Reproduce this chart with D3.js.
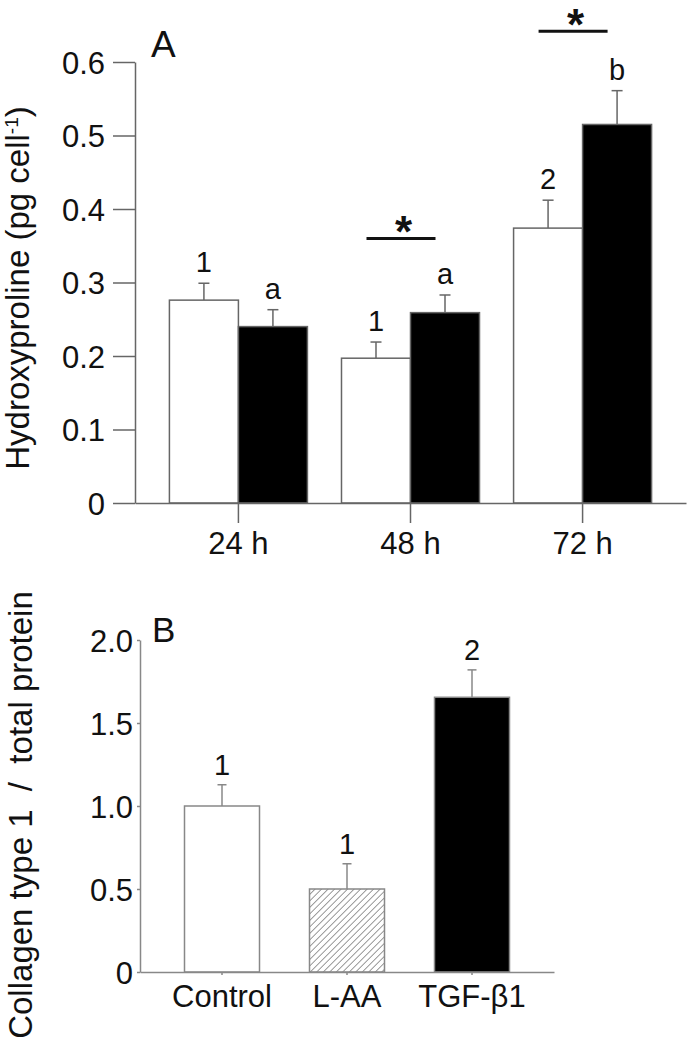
<!DOCTYPE html>
<html>
<head>
<meta charset="utf-8">
<script src="https://cdn.jsdelivr.net/npm/d3@7"></script>
<style>
  body { margin: 0; background: #fff; }
  text { font-family: "Liberation Sans", Arial, sans-serif; fill: #111; }
</style>
</head>
<body>
<div id="canvas"></div>
<script>
"use strict";

/* Panel A data */
let timeLabels = ["24 h", "48 h", "72 h"];
let controlValues = [0.276, 0.197, 0.374];
let controlErrors = [0.023, 0.022, 0.038];
let tgfValues = [0.240, 0.259, 0.515];
let tgfErrors = [0.023, 0.024, 0.046];
let controlLetters = ["1", "1", "2"];
let tgfLetters = ["a", "a", "b"];
let sigGroups = ["48 h", "72 h"];
let sigLevels = [0.36, 0.642];
let yTicksA = [0, 0.1, 0.2, 0.3, 0.4, 0.5, 0.6];
let yTickLabelsA = ["0", "0.1", "0.2", "0.3", "0.4", "0.5", "0.6"];

/* Panel B data */
let treatments = ["Control", "L-AA", "TGF-β1"];
let collagenValues = [1.0, 0.5, 1.655];
let collagenErrors = [0.128, 0.152, 0.165];
let collagenLetters = ["1", "1", "2"];
let yTicksB = [0, 0.5, 1.0, 1.5, 2.0];
let yTickLabelsB = ["0", "0.5", "1.0", "1.5", "2.0"];

/* SVG setup */
let svgWidth = 688;
let svgHeight = 1041;
let axisColor = "#666";

let svg = d3.select("#canvas")
  .append("svg")
  .attr("width", svgWidth)
  .attr("height", svgHeight);

// hatch for L-AA bar
svg.append("defs")
  .append("pattern")
  .attr("id", "hatch")
  .attr("patternUnits", "userSpaceOnUse")
  .attr("width", 4.6)
  .attr("height", 4.6)
  .attr("patternTransform", "rotate(45)")
  .append("line")
  .attr("x1", 0).attr("y1", 0)
  .attr("x2", 0).attr("y2", 4.6)
  .attr("stroke", "#555")
  .attr("stroke-width", 1.2);

/* ===== Panel A ===== */
let xA = d3.scaleBand().domain(timeLabels).range([135, 686])
  .paddingInner(0.198).paddingOuter(0.2);
let yA = d3.scaleLinear().domain([0, 0.6]).range([503, 62]);
let barW = xA.bandwidth() / 2;

let gA = svg.append("g");

// y axis
gA.append("g")
  .attr("transform", "translate(135,0)")
  .call(d3.axisLeft(yA).tickValues(yTicksA)
    .tickFormat(function (d, i) { return yTickLabelsA[i]; })
    .tickSize(22).tickSizeOuter(0).tickPadding(8))
  .call(function (g) {
    g.selectAll("path, line").attr("stroke", axisColor).attr("stroke-width", 1.5);
    g.selectAll("text").attr("fill", "#111").style("font-size", "31px")
      .style("font-family", "Liberation Sans, Arial, sans-serif").attr("dy", "0.36em");
  });

// bars
for (let i = 0; i < timeLabels.length; i++) {
  let cx = xA(timeLabels[i]) + barW;
  let pairs = [
    { v: controlValues[i], e: controlErrors[i], lab: controlLetters[i], x: cx - barW, fill: "#fff" },
    { v: tgfValues[i], e: tgfErrors[i], lab: tgfLetters[i], x: cx, fill: "#000" }
  ];
  pairs.forEach(function (p) {
    let mid = p.x + barW / 2;
    // error bar (upper only)
    gA.append("line")
      .attr("x1", mid).attr("x2", mid)
      .attr("y1", yA(p.v)).attr("y2", yA(p.v + p.e))
      .attr("stroke", axisColor).attr("stroke-width", 1.5);
    gA.append("line")
      .attr("x1", mid - 5.5).attr("x2", mid + 5.5)
      .attr("y1", yA(p.v + p.e)).attr("y2", yA(p.v + p.e))
      .attr("stroke", axisColor).attr("stroke-width", 1.5);
    gA.append("rect")
      .attr("x", p.x)
      .attr("y", yA(p.v))
      .attr("width", barW)
      .attr("height", yA(0) - yA(p.v))
      .attr("fill", p.fill)
      .attr("stroke", axisColor)
      .attr("stroke-width", 1.5);
    gA.append("text")
      .attr("x", mid)
      .attr("y", yA(p.v + p.e) - 11)
      .attr("text-anchor", "middle")
      .style("font-size", "29px")
      .text(p.lab);
  });
}

// x axis
gA.append("g")
  .attr("transform", "translate(0,503)")
  .call(d3.axisBottom(xA).tickSize(20).tickSizeOuter(0).tickPadding(31))
  .call(function (g) {
    g.selectAll("path, line").attr("stroke", axisColor).attr("stroke-width", 1.5);
    g.selectAll("text").attr("fill", "#111").style("font-size", "31px")
      .style("font-family", "Liberation Sans, Arial, sans-serif").attr("dy", "0");
  });

// significance bars
for (let i = 0; i < sigGroups.length; i++) {
  let c = xA(sigGroups[i]) + barW;
  let ly = yA(sigLevels[i]);
  gA.append("line")
    .attr("x1", c - 44).attr("x2", c + 25)
    .attr("y1", ly).attr("y2", ly)
    .attr("stroke", "#111").attr("stroke-width", 3);
  gA.append("text")
    .attr("x", c - 7)
    .attr("y", ly + 9)
    .attr("text-anchor", "middle")
    .style("font-size", "44px")
    .style("font-weight", "bold")
    .text("*");
}

// y title A
let titleA = gA.append("text")
  .attr("transform", "translate(29,288) rotate(-90)")
  .attr("text-anchor", "middle")
  .style("font-size", "33px");
titleA.append("tspan").text("Hydroxyproline (pg cell");
titleA.append("tspan").attr("dy", -11).style("font-size", "19px").text("-1");
titleA.append("tspan").attr("dy", 11).text(")");

gA.append("text")
  .attr("x", 151).attr("y", 57)
  .style("font-size", "37px")
  .text("A");

/* ===== Panel B ===== */
let xB = d3.scaleBand().domain(treatments).range([140, 554])
  .paddingInner(0.4).paddingOuter(0.356);
let yB = d3.scaleLinear().domain([0, 2]).range([972, 640]);
let fillsB = ["#fff", "url(#hatch)", "#000"];

let gB = svg.append("g");

gB.append("g")
  .attr("transform", "translate(140,0)")
  .call(d3.axisLeft(yB).tickValues(yTicksB)
    .tickFormat(function (d, i) { return yTickLabelsB[i]; })
    .tickSize(3).tickSizeOuter(0).tickPadding(4))
  .call(function (g) {
    g.selectAll("path, line").attr("stroke", "#888").attr("stroke-width", 1.5);
    g.selectAll("text").attr("fill", "#111").style("font-size", "31px")
      .style("font-family", "Liberation Sans, Arial, sans-serif").attr("dy", "0.36em");
  });

for (let i = 0; i < treatments.length; i++) {
  let x0 = xB(treatments[i]);
  let w = xB.bandwidth();
  let mid = x0 + w / 2;
  let v = collagenValues[i];
  let e = collagenErrors[i];
  gB.append("line")
    .attr("x1", mid).attr("x2", mid)
    .attr("y1", yB(v)).attr("y2", yB(v + e))
    .attr("stroke", "#888").attr("stroke-width", 1.5);
  gB.append("line")
    .attr("x1", mid - 4.5).attr("x2", mid + 4.5)
    .attr("y1", yB(v + e)).attr("y2", yB(v + e))
    .attr("stroke", "#888").attr("stroke-width", 1.5);
  gB.append("rect")
    .attr("x", x0)
    .attr("y", yB(v))
    .attr("width", w)
    .attr("height", yB(0) - yB(v))
    .attr("fill", fillsB[i])
    .attr("stroke", "#888")
    .attr("stroke-width", 1.5);
  gB.append("text")
    .attr("x", mid)
    .attr("y", yB(v + e) - 10)
    .attr("text-anchor", "middle")
    .style("font-size", "29px")
    .text(collagenLetters[i]);
}

gB.append("g")
  .attr("transform", "translate(0,972)")
  .call(d3.axisBottom(xB).tickSize(3).tickSizeOuter(0).tickPadding(32))
  .call(function (g) {
    g.selectAll("path, line").attr("stroke", "#888").attr("stroke-width", 1.5);
    g.selectAll("text").attr("fill", "#111").style("font-size", "31px")
      .style("font-family", "Liberation Sans, Arial, sans-serif").attr("dy", "0");
  });

gB.append("text")
  .attr("transform", "translate(32,815) rotate(-90)")
  .attr("text-anchor", "middle")
  .style("font-size", "33px")
  .attr("xml:space", "preserve")
  .text("Collagen type 1  /  total protein");

gB.append("text")
  .attr("x", 152).attr("y", 642)
  .style("font-size", "35px")
  .text("B");
</script>
</body>
</html>
